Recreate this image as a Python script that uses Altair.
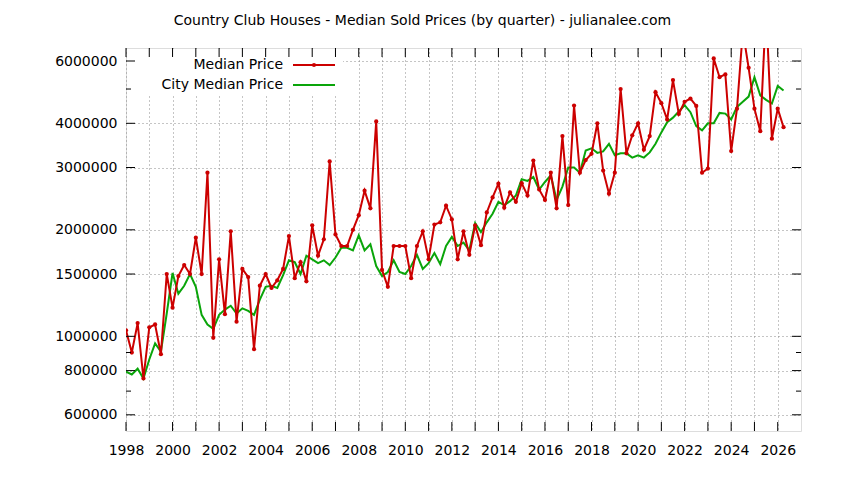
import altair as alt
import pandas as pd

title_text = "Country Club Houses - Median Sold Prices (by quarter) - julianalee.com"
series_names = ["Median Price", "City Median Price"]
start_year = 1998

# quarterly values, 1998 Q1 .. 2026 Q2
median_price = [
    1040000, 900000, 1090000, 760000,      # 1998
    1060000, 1080000, 890000, 1500000,     # 1999
    1205000, 1480000, 1590000, 1500000,    # 2000
    1900000, 1500000, 2900000, 990000,     # 2001
    1650000, 1155000, 1980000, 1100000,    # 2002
    1550000, 1470000, 920000, 1390000,     # 2003
    1500000, 1370000, 1440000, 1550000,    # 2004
    1920000, 1460000, 1620000, 1430000,    # 2005
    2060000, 1690000, 1880000, 3120000,    # 2006
    1940000, 1800000, 1800000, 2000000,    # 2007
    2200000, 2580000, 2300000, 4050000,    # 2008
    1540000, 1380000, 1800000, 1800000,    # 2009
    1800000, 1460000, 1800000, 1980000,    # 2010
    1650000, 2070000, 2100000, 2340000,    # 2011
    2140000, 1650000, 1980000, 1700000,    # 2012
    2060000, 1810000, 2240000, 2470000,    # 2013
    2700000, 2310000, 2550000, 2400000,    # 2014
    2710000, 2500000, 3140000, 2600000,    # 2015
    2430000, 2900000, 2300000, 3680000,    # 2016
    2350000, 4490000, 2900000, 3150000,    # 2017
    3280000, 4000000, 2940000, 2530000,    # 2018
    2900000, 5000000, 3290000, 3700000,    # 2019
    4000000, 3370000, 3680000, 4900000,    # 2020
    4560000, 4100000, 5300000, 4250000,    # 2021
    4600000, 4700000, 4480000, 2900000,    # 2022
    2980000, 6100000, 5400000, 5500000,    # 2023
    3340000, 4400000, 7300000, 5740000,    # 2024
    4400000, 3800000, 8500000, 3620000,    # 2025
    4400000, 3900000,                      # 2026
]
city_median = [
    795000, 780000, 810000, 760000,
    860000, 955000, 905000, 1160000,
    1510000, 1320000, 1390000, 1500000,
    1380000, 1150000, 1080000, 1050000,
    1150000, 1190000, 1220000, 1160000,
    1200000, 1180000, 1150000, 1270000,
    1380000, 1390000, 1370000, 1490000,
    1640000, 1620000, 1500000, 1690000,
    1650000, 1610000, 1640000, 1590000,
    1670000, 1780000, 1780000, 1750000,
    1930000, 1750000, 1820000, 1580000,
    1480000, 1520000, 1640000, 1520000,
    1500000, 1580000, 1700000, 1550000,
    1610000, 1720000, 1600000, 1800000,
    1910000, 1800000, 1840000, 1750000,
    2090000, 1970000, 2100000, 2220000,
    2400000, 2350000, 2410000, 2500000,
    2780000, 2750000, 2820000, 2600000,
    2730000, 2850000, 2430000, 2650000,
    3000000, 3000000, 2900000, 3350000,
    3400000, 3300000, 3330000, 3500000,
    3250000, 3290000, 3290000, 3200000,
    3250000, 3200000, 3310000, 3500000,
    3770000, 4030000, 4150000, 4320000,
    4500000, 4300000, 3930000, 3820000,
    4000000, 4000000, 4280000, 4260000,
    4100000, 4450000, 4600000, 4760000,
    5400000, 4800000, 4660000, 4550000,
    5100000, 4950000,
]
y_label_values = [600000, 800000, 1000000, 1500000, 2000000, 3000000, 4000000, 6000000]
y_minor_values = [700000, 900000, 5000000]
x_years = list(range(1998, 2027))
x_major_years = list(range(1998, 2027, 2))
x_minor_years = list(range(1999, 2027, 2))

quarters = [start_year + i / 4 for i in range(len(median_price))]
df = pd.DataFrame({"t": quarters, "median": median_price, "city": city_median})

W, H = 675, 383
RED = "#cc0000"
GREEN = "#0aa50a"
FONT = "DejaVu Sans"

xscale = alt.Scale(domain=[1998, 2027], nice=False, zero=False)
yscale = alt.Scale(type="log", domain=[540000, 6530000], nice=False)
xaxis = alt.Axis(values=x_years, format="d",
                 labelExpr="datum.value % 2 == 0 ? datum.label : ''",
                 grid=True, gridDash=[1, 3], gridColor="#8a8a8a", gridOpacity=1,
                 ticks=False, domain=False, labelPadding=12, labelFontSize=14,
                 labelFont=FONT, labelColor="black", title=None, labelFlush=False)
yaxis = alt.Axis(values=y_label_values, format="d",
                 grid=True, gridDash=[1, 3], gridColor="#8a8a8a", gridOpacity=1,
                 ticks=False, domain=False, labelPadding=9, labelFontSize=14,
                 labelFont=FONT, labelColor="black", title=None)

def X(field):
    return alt.X(field, scale=xscale, axis=xaxis)

def Y(field):
    return alt.Y(field, scale=yscale, axis=yaxis)

base = alt.Chart(df)
red_line = base.mark_line(color=RED, strokeWidth=2, clip=True).encode(x=X("t:Q"), y=Y("median:Q"))
red_pts = base.mark_point(color=RED, filled=True, shape="circle", size=18, opacity=1, clip=True).encode(x=X("t:Q"), y=Y("median:Q"))
green_line = base.mark_line(color=GREEN, strokeWidth=2, clip=True).encode(x=X("t:Q"), y=Y("city:Q"))

ymaj = pd.DataFrame({"v": y_label_values})
ymin = pd.DataFrame({"v": y_minor_values})
xmaj = pd.DataFrame({"v": x_major_years})
xmin = pd.DataFrame({"v": x_minor_years})

tick_layers = []
for d, ln in ((ymaj, 9), (ymin, 5)):
    tick_layers.append(alt.Chart(d).mark_rule(color="black", strokeWidth=1).encode(
        y=Y("v:Q"), x=alt.value(0), x2=alt.value(ln)))
    tick_layers.append(alt.Chart(d).mark_rule(color="black", strokeWidth=1).encode(
        y=Y("v:Q"), x=alt.value(W), x2=alt.value(W - ln)))
for d, ln in ((xmaj, 9), (xmin, 9)):
    tick_layers.append(alt.Chart(d).mark_rule(color="black", strokeWidth=1).encode(
        x=X("v:Q"), y=alt.value(H), y2=alt.value(H - ln)))
    tick_layers.append(alt.Chart(d).mark_rule(color="black", strokeWidth=1).encode(
        x=X("v:Q"), y=alt.value(0), y2=alt.value(ln)))

one = pd.DataFrame({"k": [0]})
legend_bg = alt.Chart(one).mark_rect(color="white").encode(
    x=alt.value(1), x2=alt.value(217), y=alt.value(1), y2=alt.value(47))
leg = []
for i, (name, col) in enumerate(zip(series_names, [RED, GREEN])):
    yy = 17 + 20 * i
    leg.append(alt.Chart(one).mark_text(align="right", baseline="middle", fontSize=14,
                                        font=FONT, color="black").encode(
        x=alt.value(157), y=alt.value(yy), text=alt.value(name)))
    leg.append(alt.Chart(one).mark_rule(color=col, strokeWidth=2).encode(
        x=alt.value(167), x2=alt.value(209), y=alt.value(yy)))
leg.append(alt.Chart(one).mark_point(color=RED, filled=True, shape="circle", size=18, opacity=1).encode(
    x=alt.value(188), y=alt.value(17)))

chart = alt.layer(legend_bg, green_line, red_line, red_pts, *leg, *tick_layers).properties(
    width=W, height=H,
    title=alt.TitleParams(title_text, font=FONT, fontSize=14, fontWeight="normal",
                          anchor="middle", dx=-41, offset=20, color="black"),
    autosize=alt.AutoSizeParams(type="none"),
    padding={"left": 126, "top": 48, "right": 43, "bottom": 49},
).configure_view(stroke="black", strokeWidth=1).configure(background="white")

chart.save("out.html", embed_options={"renderer": "svg", "actions": False})
